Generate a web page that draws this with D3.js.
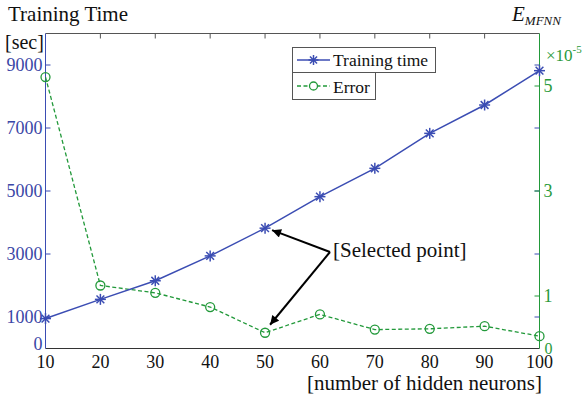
<!DOCTYPE html>
<html><head><meta charset="utf-8">
<script src="https://cdn.jsdelivr.net/npm/d3@7"></script>
<style>
html,body{margin:0;padding:0;background:#fff;}
svg{display:block;}
</style></head>
<body>
<svg id="chart" width="585" height="396"></svg>
<script>
const neurons = [10,20,30,40,50,60,70,80,90,100];
const trainingTime = [950,1560,2150,2940,3820,4820,5720,6830,7730,8820];
const errorVals = [5.17,1.20,1.06,0.79,0.30,0.65,0.36,0.375,0.425,0.235]; // x1e-5
const xTicks = [10,20,30,40,50,60,70,80,90,100];
const leftTicks = [0,1000,3000,5000,7000,9000];
const rightTicks = [0,1,3,5];
const selectedIndex = 4;

const FONT = "'Liberation Serif'";
const blue = "#3b4db3", green = "#22993a", blueText = "#3a46a6", greenText = "#2a9a3a";
const svg = d3.select("#chart");
const L = 45.5, R = 539.5, T = 33.5, B = 348.5;
const x = d3.scaleLinear().domain([10,100]).range([L,R]);
const yL = d3.scaleLinear().domain([0,10000]).range([B,T]);
const yR = d3.scaleLinear().domain([0,6]).range([B,T]);

function txt(sel){ return sel.style("font-family",FONT); }

// frame
svg.append("line").attr("x1",L).attr("x2",R).attr("y1",T).attr("y2",T).attr("stroke","#555").attr("stroke-width",1);
svg.append("line").attr("x1",L).attr("x2",R).attr("y1",B).attr("y2",B).attr("stroke","#333").attr("stroke-width",1);
svg.append("line").attr("x1",L).attr("x2",L).attr("y1",T).attr("y2",B).attr("stroke",blue).attr("stroke-width",1);
svg.append("line").attr("x1",R).attr("x2",R).attr("y1",T).attr("y2",B).attr("stroke",green).attr("stroke-width",1);

// top ticks (inward)
svg.append("g").selectAll("line").data(xTicks.slice(1,-1)).join("line")
  .attr("x1",d=>x(d)).attr("x2",d=>x(d)).attr("y1",T).attr("y2",T+5).attr("stroke","#555");

// x axis labels
txt(svg.append("g").selectAll("text").data(xTicks).join("text")
  .attr("x",d=>x(d)).attr("y",368).attr("text-anchor","middle")
  .attr("font-size",18).attr("fill","#111").text(d=>d));

// left axis
const gl = svg.append("g");
gl.selectAll("line").data(leftTicks.slice(1)).join("line")
  .attr("x1",L).attr("x2",L+5).attr("y1",d=>yL(d)).attr("y2",d=>yL(d)).attr("stroke",blue);
gl.selectAll("line.r").data(leftTicks.slice(1)).join("line").attr("class","r")
  .attr("x1",R-5).attr("x2",R).attr("y1",d=>yL(d)).attr("y2",d=>yL(d)).attr("stroke",blue);
txt(gl.selectAll("text").data(leftTicks).join("text")
  .attr("x",L-3).attr("y",d=>d===0? B+1 : yL(d)+6).attr("text-anchor","end")
  .attr("font-size",18).attr("fill",blueText).text(d=>d));

// right axis
const gr = svg.append("g");
gr.selectAll("line").data(rightTicks.slice(1)).join("line")
  .attr("x1",R-5).attr("x2",R).attr("y1",d=>yR(d)).attr("y2",d=>yR(d)).attr("stroke",green);
txt(gr.selectAll("text").data(rightTicks).join("text")
  .attr("x",d=>d===0? R+5 : R+4).attr("y",d=>d===0? B+5 : yR(d)+6).attr("text-anchor","start")
  .attr("font-size",d=>d===0?16:18).attr("fill",greenText).text(d=>d));

// titles
txt(svg.append("text").attr("x",8).attr("y",21).attr("font-size",21).attr("fill","#111").text("Training Time"));
txt(svg.append("text").attr("x",5).attr("y",49).attr("font-size",20).attr("fill","#111").text("[sec]"));
const et = txt(svg.append("text").attr("x",512).attr("y",21).attr("fill","#111").attr("font-style","italic"));
et.append("tspan").attr("font-size",21).text("E");
et.append("tspan").attr("font-size",13).attr("dy",4).text("MFNN");
const mt = txt(svg.append("text").attr("x",546).attr("y",61).attr("fill",greenText));
mt.append("tspan").attr("font-size",17).text("×10");
mt.append("tspan").attr("font-size",11).attr("dy",-8).text("-5");
txt(svg.append("text").attr("x",542).attr("y",390).attr("text-anchor","end").attr("font-size",21).attr("fill","#111").text("[number of hidden neurons]"));

// error line
const errLine = d3.line().x((d,i)=>x(neurons[i])).y(d=>yR(d));
svg.append("path").datum(errorVals).attr("d",errLine).attr("fill","none")
  .attr("stroke",green).attr("stroke-width",1.3).attr("stroke-dasharray","4,2.5");
svg.append("g").selectAll("circle").data(errorVals).join("circle")
  .attr("cx",(d,i)=>x(neurons[i])).attr("cy",d=>yR(d)).attr("r",4.5)
  .attr("fill","none").attr("stroke",green).attr("stroke-width",1.3);

// training line
const ttLine = d3.line().x((d,i)=>x(neurons[i])).y(d=>yL(d));
svg.append("path").datum(trainingTime).attr("d",ttLine).attr("fill","none")
  .attr("stroke",blue).attr("stroke-width",1.5);
function star(g, cx, cy, r){
  const ang=[0,45,90,135];
  ang.forEach(a=>{
    const dx=r*Math.cos(a*Math.PI/180), dy=r*Math.sin(a*Math.PI/180);
    g.append("line").attr("x1",cx-dx).attr("x2",cx+dx).attr("y1",cy-dy).attr("y2",cy+dy)
      .attr("stroke",blue).attr("stroke-width",1.5);
  });
}
const gs = svg.append("g");
trainingTime.forEach((d,i)=>star(gs, x(neurons[i]), yL(d), 5.5));

// legend
const lg = svg.append("g");
lg.append("rect").attr("x",292.5).attr("y",47.5).attr("width",143).attr("height",25).attr("fill","#fff").attr("stroke","#555");
lg.append("line").attr("x1",297).attr("x2",330).attr("y1",60).attr("y2",60).attr("stroke",blue).attr("stroke-width",1.5);
star(lg, 313.5, 60, 5);
txt(lg.append("text").attr("x",333).attr("y",66).attr("font-size",17.5).attr("fill","#111").text("Training time"));
lg.append("rect").attr("x",292.5).attr("y",72.5).attr("width",83).attr("height",27).attr("fill","#fff").attr("stroke","#555");
lg.append("line").attr("x1",297).attr("x2",330).attr("y1",86).attr("y2",86).attr("stroke",green).attr("stroke-width",1.3).attr("stroke-dasharray","4,2.5");
lg.append("circle").attr("cx",313.5).attr("cy",86).attr("r",4).attr("fill","#fff").attr("stroke",green).attr("stroke-width",1.3);
txt(lg.append("text").attr("x",333).attr("y",93).attr("font-size",17.5).attr("fill","#111").text("Error"));

// annotation
svg.append("defs").append("marker").attr("id","ah").attr("viewBox","0 0 10 10")
  .attr("refX",10).attr("refY",5).attr("markerWidth",11).attr("markerHeight",9)
  .attr("markerUnits","userSpaceOnUse").attr("orient","auto")
  .append("path").attr("d","M0,0 L10,5 L0,10 Z").attr("fill","#000");
const ox = 330, oy = 252;
const tx = x(neurons[selectedIndex]);
svg.append("line").attr("x1",ox).attr("y1",oy).attr("x2",tx+7).attr("y2",yL(trainingTime[selectedIndex])+2)
  .attr("stroke","#000").attr("stroke-width",2).attr("marker-end","url(#ah)");
svg.append("line").attr("x1",ox).attr("y1",oy).attr("x2",tx+5).attr("y2",yR(errorVals[selectedIndex])-8)
  .attr("stroke","#000").attr("stroke-width",2).attr("marker-end","url(#ah)");
txt(svg.append("text").attr("x",333).attr("y",257).attr("font-size",21).attr("fill","#111").text("[Selected point]"));
</script>
</body></html>
